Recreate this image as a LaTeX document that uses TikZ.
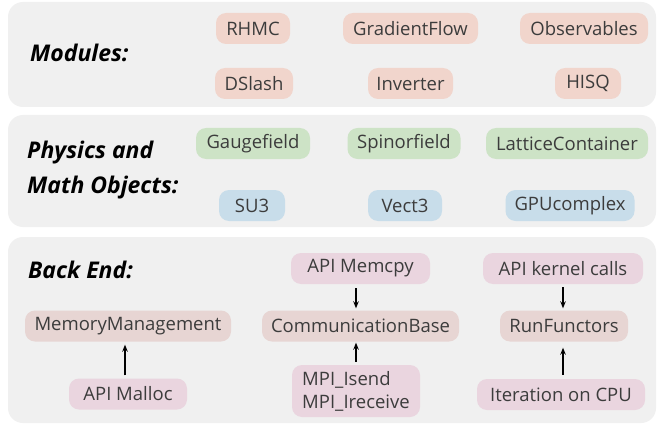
\documentclass[tikz,border=0pt]{standalone}
\usepackage{fontspec}
\setmainfont{Open Sans}
\usetikzlibrary{arrows.meta}
\definecolor{panelbg}{HTML}{F0F0F0}
\definecolor{modfill}{HTML}{F1D5CC}
\definecolor{objgreen}{HTML}{CDE3C6}
\definecolor{objblue}{HTML}{C8DDEA}
\definecolor{apifill}{HTML}{EAD5DF}
\definecolor{basefill}{HTML}{E7D5D3}
\definecolor{txtgray}{HTML}{3C3C3C}
\tikzset{
  panel/.style={fill=panelbg, draw=none, rounded corners=15pt},
  box/.style={draw=none, rounded corners=10pt, minimum height=31pt, inner sep=0pt,
    text=txtgray, font=\fontsize{18.5}{23}\selectfont},
  modbox/.style={box, fill=modfill},
  greenbox/.style={box, fill=objgreen},
  bluebox/.style={box, fill=objblue},
  apibox/.style={box, fill=apifill},
  basebox/.style={box, fill=basefill},
  header/.style={anchor=west, inner sep=0pt, align=left,
    font=\fontsize{23}{35}\selectfont\bfseries\itshape},
  arr/.style={-{Stealth[length=7pt,width=5.5pt]}, line width=1.3pt, black}
}
\begin{document}
\begin{tikzpicture}[x=1pt,y=-1pt]
\useasboundingbox[fill=white] (0,0) rectangle (666,425);
% panels
\path[panel] (8,2) rectangle (656,107);
\path[panel] (8,115) rectangle (656,227);
\path[panel] (8,237) rectangle (656,423);
% headers
\node[header] (hmod) at (30,53) {Modules:};
\node[header] (hphys) at (27,170.5) {Physics and\\Math Objects:};
\node[header] (hback) at (28,270) {Back End:};
% modules
\node[modbox, minimum width=74pt] (rhmc) at (253,28.5) {RHMC};
\node[modbox, minimum width=135pt] (gflow) at (410.5,28.5) {GradientFlow};
\node[modbox, minimum width=128pt] (obs) at (584,28.5) {Observables};
\node[modbox, minimum width=78pt] (dslash) at (254,83.5) {DSlash};
\node[modbox, minimum width=85pt] (inv) at (410.5,83.5) {Inverter};
\node[modbox, minimum width=66pt] (hisq) at (588,83.5) {HISQ};
% physics and math objects
\node[greenbox, minimum width=114pt] (gauge) at (253,143.5) {Gaugefield};
\node[greenbox, minimum width=113pt] (spinor) at (404,143.5) {Spinorfield};
\node[greenbox, minimum width=162pt] (lattice) at (567,143.5) {LatticeContainer};
\node[bluebox, minimum width=66pt] (su3) at (252,205.5) {SU3};
\node[bluebox, minimum width=74pt] (vect) at (405,205.5) {Vect3};
\node[bluebox, minimum width=129pt] (gpuc) at (570,205.5) {GPUcomplex};
% back end
\node[apibox, minimum width=139pt] (memcpy) at (360.5,268.5) {API Memcpy};
\node[apibox, minimum width=160pt] (kernel) at (563,268.5) {API kernel calls};
\node[basebox, minimum width=206pt] (mm) at (128,326) {MemoryManagement};
\node[basebox, minimum width=197pt] (comm) at (360.5,326) {CommunicationBase};
\node[basebox, minimum width=128pt] (runf) at (564,326) {RunFunctors};
\node[apibox, minimum width=118pt] (malloc) at (128,394) {API Malloc};
\node[apibox, minimum width=128pt, minimum height=52pt, align=left] (mpi) at (356,391) {MPI\_Isend\\MPI\_Ireceive};
\node[apibox, minimum width=168pt] (iter) at (561,394.5) {Iteration on CPU};
% arrows
\draw[arr, shorten <=4pt, shorten >=2pt] ([xshift=-4.5pt]memcpy.south) -- ([xshift=-4.5pt]comm.north);
\draw[arr, shorten <=3pt, shorten >=2pt] (kernel.south) -- ([xshift=-1pt]runf.north);
\draw[arr, shorten <=3pt, shorten >=3pt] ([xshift=-3pt]malloc.north) -- ([xshift=-3pt]mm.south);
\draw[arr, shorten <=3pt, shorten >=1pt] (mpi.north) -- ([xshift=-4.5pt]comm.south);
\draw[arr, shorten <=4pt, shorten >=6pt] ([xshift=2pt]iter.north) -- ([xshift=-1pt]runf.south);
\end{tikzpicture}
\end{document}
